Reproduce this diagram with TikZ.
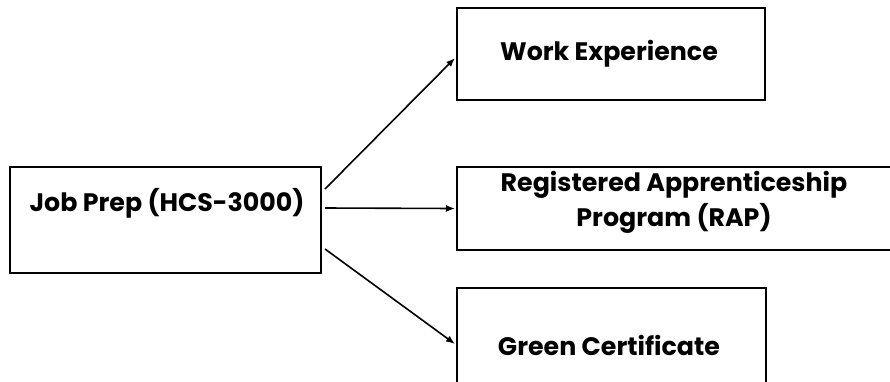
\documentclass[tikz,border=0pt]{standalone}
\usepackage{fontspec}
\setmainfont{Poppins}[BoldFont={Poppins Bold}]
\usetikzlibrary{arrows.meta}
\tikzset{
  box/.style={draw=black, line width=2pt, rectangle, inner sep=0pt},
  txt/.style={font=\fontsize{25.3}{35}\selectfont\bfseries, align=center, inner sep=0pt},
  arr/.style={draw=black, line width=1.6pt, -{Latex[length=9pt,width=7pt]}}
}
\begin{document}
\begin{tikzpicture}[x=1pt,y=-1pt]
\useasboundingbox (0,0) rectangle (890,381);
\node[box, minimum width=311pt, minimum height=106pt] (jp) at (165.5,220) {};
\node[txt] (jpt) at (167,203) {Job Prep (HCS-3000)};
\node[box, minimum width=308pt, minimum height=92pt] (wk) at (611,54) {};
\node[txt] (wkt) at (609,54) {Work Experience};
\node[box, minimum width=434pt, minimum height=83pt] (rap) at (674,208.5) {};
\node[txt] (rapt) at (674,202.5) {Registered Apprenticeship\\Program (RAP)};
\node[box, minimum width=309pt, minimum height=112pt] (gc) at (611.5,344) {};
\node[txt] (gct) at (609,345) {Green Certificate};
\draw[arr] ([shift={(3,-31)}]jp.east) -- ([shift={(-1,4)}]wk.west);
\draw[arr] ([shift={(3,-12)}]jp.east) -- ([shift={(-1,0)}]rap.west);
\draw[arr] ([shift={(3,29)}]jp.east) -- ([shift={(-1,0)}]gc.west);
\end{tikzpicture}
\end{document}
